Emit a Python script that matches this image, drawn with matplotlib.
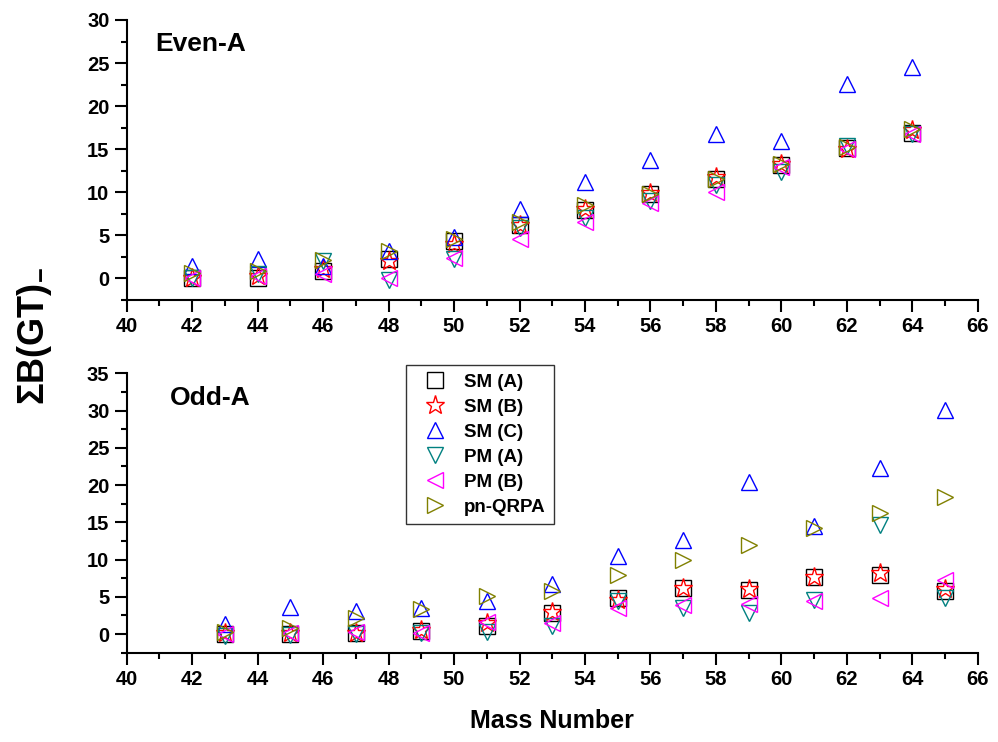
import matplotlib
matplotlib.use("Agg")
import matplotlib.pyplot as plt
from matplotlib.ticker import MultipleLocator

plt.rcParams["font.family"] = ["Liberation Sans", "DejaVu Sans"]
plt.rcParams["font.weight"] = "bold"
plt.rcParams["mathtext.fontset"] = "custom"
plt.rcParams["mathtext.rm"] = "Liberation Sans:bold"
plt.rcParams["mathtext.it"] = "Liberation Sans:bold"
plt.rcParams["mathtext.bf"] = "Liberation Sans:bold"

# Even-A nuclei
mass_even = [42, 44, 46, 48, 50, 52, 54, 56, 58, 60, 62, 64]
sm_a_even = [0.0, 0.0, 0.9, 2.2, 4.3, 6.2, 7.9, 9.8, 11.5, 13.2, 15.1, 16.9]
sm_b_even = [0.1, 0.3, 1.1, 2.0, 4.0, 6.2, 8.1, 9.9, 11.8, 13.3, 15.0, 17.2]
sm_c_even = [1.4, 2.2, 1.5, 3.2, 4.8, 8.1, 11.2, 13.7, 16.8, 15.9, 22.6, 24.5]
pm_a_even = [0.0, 0.5, 2.0, -0.2, 2.2, 5.8, 7.0, 9.0, 10.8, 12.4, 15.4, 16.8]
pm_b_even = [0.1, 0.3, 0.5, 0.1, 2.4, 4.6, 6.5, 8.7, 10.0, 12.9, 15.0, 16.8]
qrpa_even = [0.6, 0.9, 2.1, 3.2, 4.6, 6.5, 8.5, 9.8, 11.6, 13.3, 15.3, 17.3]

# Odd-A nuclei
mass_odd = [43, 45, 47, 49, 51, 53, 55, 57, 59, 61, 63, 65]
sm_a_odd = [0.0, 0.0, 0.2, 0.45, 1.1, 2.8, 4.9, 6.2, 5.9, 7.7, 7.95, 5.8]
sm_b_odd = [0.1, 0.2, 0.2, 0.5, 1.5, 3.0, 4.6, 6.2, 6.0, 7.7, 8.2, 6.1]
sm_c_odd = [1.3, 3.7, 3.1, 3.5, 4.5, 6.75, 10.5, 12.65, 20.4, 14.45, 22.3, 30.1]
pm_a_odd = [-0.2, -0.1, 0.0, 0.2, 0.3, 1.1, 4.5, 3.45, 2.8, 4.6, 14.6, 4.9]
pm_b_odd = [0.0, 0.1, 0.3, 0.2, 1.6, 1.45, 3.45, 3.9, 4.1, 4.4, 4.8, 7.2]
qrpa_odd = [0.3, 0.85, 2.1, 3.35, 5.1, 5.85, 7.9, 9.9, 12.0, 14.2, 16.3, 18.4]

labels = ["SM (A)", "SM (B)", "SM (C)", "PM (A)", "PM (B)", "pn-QRPA"]
markers = ["s", "*", "^", "v", "<", ">"]
colors = ["black", "red", "blue", "#008080", "#ff00ff", "#808000"]
sizes = [12, 14, 11, 11, 11, 11]

fig = plt.figure(figsize=(9.98, 7.42), dpi=100)
ax_top = fig.add_axes([0.127, 0.5957, 0.8527, 0.3774])
ax_bot = fig.add_axes([0.127, 0.1203, 0.8527, 0.3766])


def draw(ax, x, series, ylim, ymax_tick):
    for ys, lab, m, c, s in zip(series, labels, markers, colors, sizes):
        ax.plot(x, ys, linestyle="none", marker=m, markersize=s,
                markerfacecolor="none", markeredgecolor=c,
                markeredgewidth=1.0, label=lab)
    ax.set_xlim(40, 66)
    ax.set_ylim(*ylim)
    ax.xaxis.set_major_locator(MultipleLocator(2))
    ax.xaxis.set_minor_locator(MultipleLocator(1))
    ax.yaxis.set_major_locator(MultipleLocator(5))
    ax.yaxis.set_minor_locator(MultipleLocator(2.5))
    ax.spines["top"].set_visible(False)
    ax.spines["right"].set_visible(False)
    ax.spines["left"].set_bounds(ylim[0], ymax_tick)
    for sp in ("left", "bottom"):
        ax.spines[sp].set_linewidth(1.5)
    ax.tick_params(which="major", direction="out", length=8.5, width=1.5,
                   labelsize=14.5, pad=4)
    ax.tick_params(which="minor", direction="out", length=4, width=1.5)


draw(ax_top, mass_even,
     [sm_a_even, sm_b_even, sm_c_even, pm_a_even, pm_b_even, qrpa_even],
     (-2.5, 30), 30)
draw(ax_bot, mass_odd,
     [sm_a_odd, sm_b_odd, sm_c_odd, pm_a_odd, pm_b_odd, qrpa_odd],
     (-2.5, 35), 35)

ax_top.text(40.86, 26.4, "Even-A", fontsize=19, fontweight="bold", va="baseline")
ax_bot.text(41.32, 30.7, "Odd-A", fontsize=19, fontweight="bold", va="baseline")

leg = ax_bot.legend(loc="upper left", bbox_to_anchor=(0.4068, 0.5081),
                    bbox_transform=fig.transFigure, fontsize=13.5,
                    frameon=True, fancybox=False, edgecolor="black",
                    borderpad=0.45, labelspacing=0.42, handlelength=2.2,
                    handletextpad=0.46, borderaxespad=0)
leg.get_frame().set_linewidth(1.0)
for t in leg.get_texts():
    t.set_fontweight("bold")

ax_bot.set_xlabel("Mass Number", fontsize=18, fontweight="bold", labelpad=14)
fig.text(0.035, 0.547, "ΣB(GT)$_{-}$", rotation=90, fontsize=26,
         fontweight="bold", ha="center", va="center")

fig.canvas.draw()
for ax in (ax_top, ax_bot):
    plt.setp(ax.get_xticklabels() + ax.get_yticklabels(), fontweight="bold")

fig.savefig("out.png", dpi=100)
